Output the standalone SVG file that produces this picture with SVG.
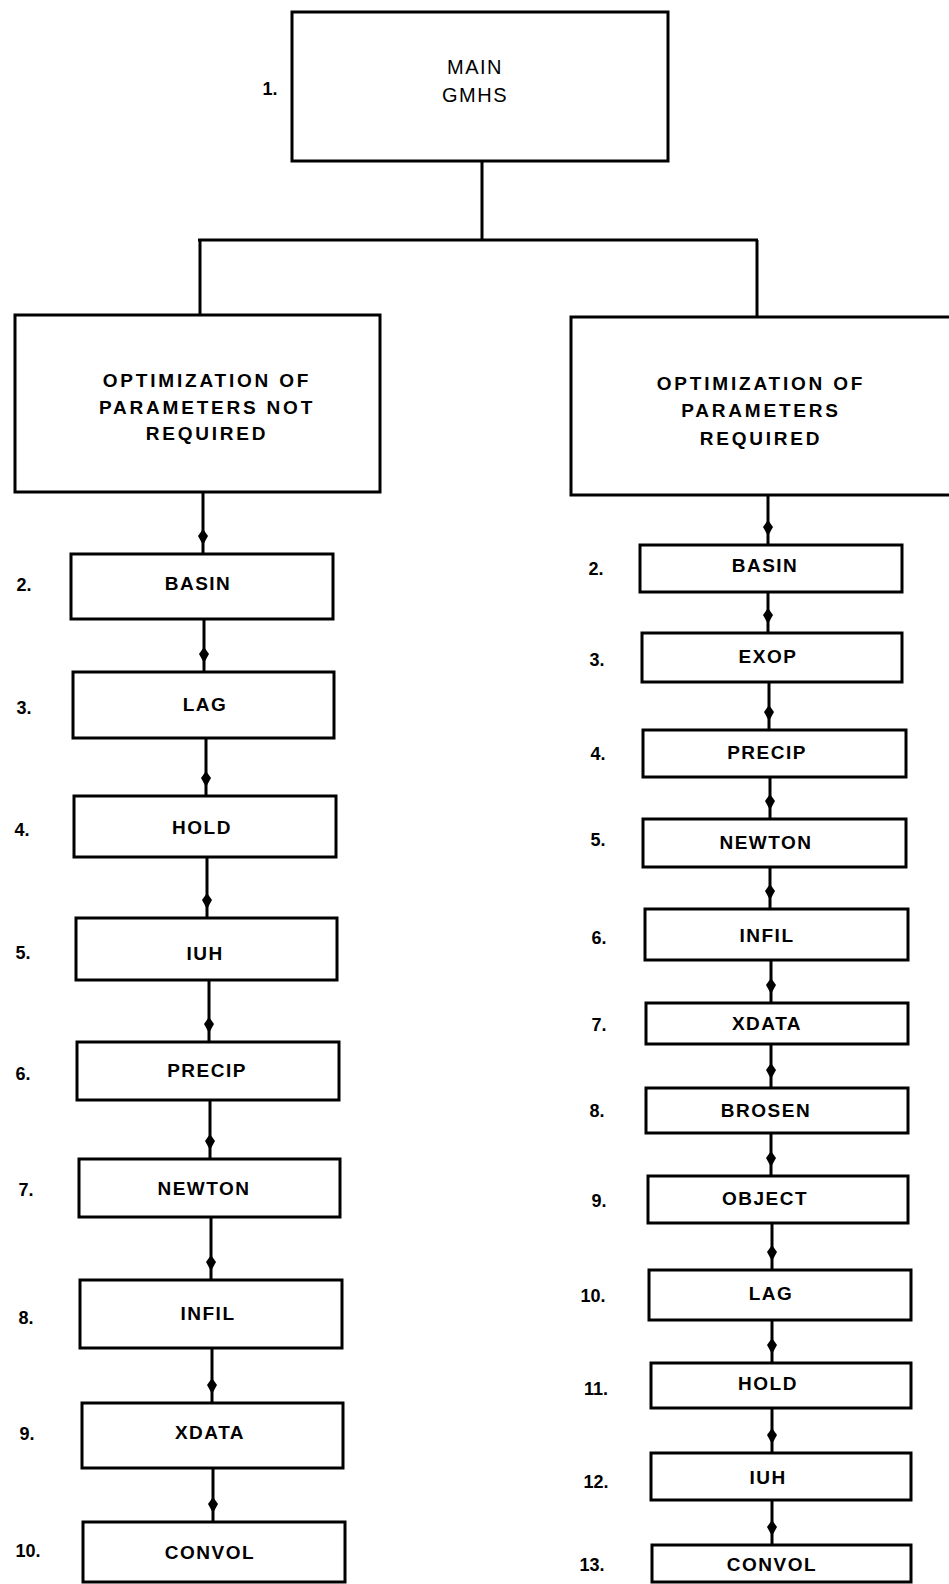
<svg xmlns="http://www.w3.org/2000/svg" width="949" height="1584" viewBox="0 0 949 1584">
<style>
.box{fill:#fff;stroke:#000;stroke-width:3}
.t{font-family:"Liberation Sans",Arial,sans-serif;font-weight:bold;font-size:19px;letter-spacing:1.5px;text-anchor:middle;fill:#000}
.big{font-family:"Liberation Sans",Arial,sans-serif;font-weight:bold;font-size:19px;letter-spacing:2.8px;text-anchor:middle;fill:#000}
.main{font-family:"Liberation Sans",Arial,sans-serif;font-size:20px;letter-spacing:1.5px;text-anchor:middle;fill:#000}
.n{font-family:"Liberation Sans",Arial,sans-serif;font-weight:bold;font-size:18px;text-anchor:middle;fill:#000}
.c{fill:none;stroke:#000;stroke-width:3;marker-mid:url(#ah)}
.l{fill:none;stroke:#000;stroke-width:3}
</style>
<defs>
<marker id="ah" markerUnits="userSpaceOnUse" markerWidth="22" markerHeight="22" refX="0" refY="0" viewBox="-11 -11 22 22" orient="auto">
<path d="M7,0 L-2,-5 L-9,0 L-2,5 Z" fill="#000"/>
</marker>
</defs>
<rect width="949" height="1584" fill="#fff"/>
<g id="connectors">
<path class="l" d="M482,161 V240 M198,240 H758 M200,240 V315 M757,240 V318"/>
<path class="c" d="M203,492 V538 V554"/>
<path class="c" d="M204,619 V656 V672"/>
<path class="c" d="M206,738 V780 V796"/>
<path class="c" d="M207,857 V902 V918"/>
<path class="c" d="M209,980 V1026 V1042"/>
<path class="c" d="M210,1100 V1143 V1159"/>
<path class="c" d="M211,1217 V1264 V1280"/>
<path class="c" d="M212,1348 V1387 V1403"/>
<path class="c" d="M213,1468 V1506 V1522"/>
<path class="c" d="M768,495 V529 V545"/>
<path class="c" d="M768,592 V617 V633"/>
<path class="c" d="M769,682 V714 V730"/>
<path class="c" d="M770,777 V803 V819"/>
<path class="c" d="M770,867 V893 V909"/>
<path class="c" d="M771,960 V987 V1003"/>
<path class="c" d="M771,1044 V1072 V1088"/>
<path class="c" d="M771,1133 V1160 V1176"/>
<path class="c" d="M772,1223 V1254 V1270"/>
<path class="c" d="M772,1320 V1347 V1363"/>
<path class="c" d="M772,1408 V1437 V1453"/>
<path class="c" d="M772,1500 V1529 V1545"/>
</g>
<g id="main"><rect class="box" x="292" y="12" width="376" height="149"/><text class="main" x="475" y="74">MAIN</text><text class="main" x="475" y="102">GMHS</text><text class="n" x="270" y="95">1.</text></g>
<g id="notreq"><rect class="box" x="15" y="315" width="365" height="177"/><text class="big" x="207" y="387">OPTIMIZATION OF</text><text class="big" x="207" y="414">PARAMETERS NOT</text><text class="big" x="207" y="440">REQUIRED</text></g>
<g id="req"><rect class="box" x="571" y="317" width="382" height="178"/><text class="big" x="761" y="390">OPTIMIZATION OF</text><text class="big" x="761" y="417">PARAMETERS</text><text class="big" x="761" y="445">REQUIRED</text></g>
<g id="l2"><rect class="box" x="71" y="554" width="262" height="65"/><text class="t" x="198" y="590">BASIN</text><text class="n" x="24" y="591">2.</text></g>
<g id="l3"><rect class="box" x="73" y="672" width="261" height="66"/><text class="t" x="205" y="711">LAG</text><text class="n" x="24" y="714">3.</text></g>
<g id="l4"><rect class="box" x="74" y="796" width="262" height="61"/><text class="t" x="202" y="834">HOLD</text><text class="n" x="22" y="836">4.</text></g>
<g id="l5"><rect class="box" x="76" y="918" width="261" height="62"/><text class="t" x="205" y="960">IUH</text><text class="n" x="23" y="959">5.</text></g>
<g id="l6"><rect class="box" x="77" y="1042" width="262" height="58"/><text class="t" x="207" y="1077">PRECIP</text><text class="n" x="23" y="1080">6.</text></g>
<g id="l7"><rect class="box" x="79" y="1159" width="261" height="58"/><text class="t" x="204" y="1195">NEWTON</text><text class="n" x="26" y="1196">7.</text></g>
<g id="l8"><rect class="box" x="80" y="1280" width="262" height="68"/><text class="t" x="208" y="1320">INFIL</text><text class="n" x="26" y="1324">8.</text></g>
<g id="l9"><rect class="box" x="82" y="1403" width="261" height="65"/><text class="t" x="210" y="1439">XDATA</text><text class="n" x="27" y="1440">9.</text></g>
<g id="l10"><rect class="box" x="83" y="1522" width="262" height="60"/><text class="t" x="210" y="1559">CONVOL</text><text class="n" x="28" y="1557">10.</text></g>
<g id="r2"><rect class="box" x="640" y="545" width="262" height="47"/><text class="t" x="765" y="572">BASIN</text><text class="n" x="596" y="575">2.</text></g>
<g id="r3"><rect class="box" x="642" y="633" width="260" height="49"/><text class="t" x="768" y="663">EXOP</text><text class="n" x="597" y="666">3.</text></g>
<g id="r4"><rect class="box" x="643" y="730" width="263" height="47"/><text class="t" x="767" y="759">PRECIP</text><text class="n" x="598" y="760">4.</text></g>
<g id="r5"><rect class="box" x="643" y="819" width="263" height="48"/><text class="t" x="766" y="849">NEWTON</text><text class="n" x="598" y="846">5.</text></g>
<g id="r6"><rect class="box" x="645" y="909" width="263" height="51"/><text class="t" x="767" y="942">INFIL</text><text class="n" x="599" y="944">6.</text></g>
<g id="r7"><rect class="box" x="646" y="1003" width="262" height="41"/><text class="t" x="767" y="1030">XDATA</text><text class="n" x="599" y="1031">7.</text></g>
<g id="r8"><rect class="box" x="646" y="1088" width="262" height="45"/><text class="t" x="766" y="1117">BROSEN</text><text class="n" x="597" y="1117">8.</text></g>
<g id="r9"><rect class="box" x="648" y="1176" width="260" height="47"/><text class="t" x="765" y="1205">OBJECT</text><text class="n" x="599" y="1207">9.</text></g>
<g id="r10"><rect class="box" x="649" y="1270" width="262" height="50"/><text class="t" x="771" y="1300">LAG</text><text class="n" x="593" y="1302">10.</text></g>
<g id="r11"><rect class="box" x="651" y="1363" width="260" height="45"/><text class="t" x="768" y="1390">HOLD</text><text class="n" x="596" y="1395">11.</text></g>
<g id="r12"><rect class="box" x="651" y="1453" width="260" height="47"/><text class="t" x="768" y="1484">IUH</text><text class="n" x="596" y="1488">12.</text></g>
<g id="r13"><rect class="box" x="652" y="1545" width="259" height="37"/><text class="t" x="772" y="1571">CONVOL</text><text class="n" x="592" y="1571">13.</text></g>
</svg>
